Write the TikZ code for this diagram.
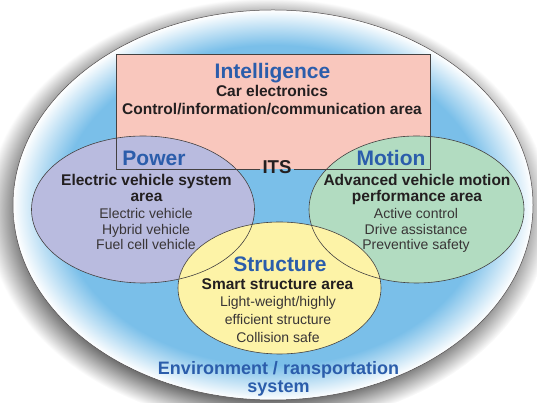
\documentclass[tikz,border=0pt]{standalone}
\usepackage{fontspec}
\setmainfont{Liberation Sans}

\definecolor{sky}{HTML}{7ABFE9}
\definecolor{headblue}{HTML}{2B5DAB}
\definecolor{ink}{HTML}{231F20}
\definecolor{intfill}{HTML}{F9C7BD}
\definecolor{powfill}{HTML}{B9BBDF}
\definecolor{motfill}{HTML}{B2DCC1}
\definecolor{strfill}{HTML}{FDF3A7}

\pgfdeclareradialshading{envglow}{\pgfpoint{0bp}{0bp}}{color(0bp)=(sky); color(20.5bp)=(sky); color(23bp)=(sky!45!white); color(25bp)=(white); color(50bp)=(white)}
\pgfdeclareradialshading{envshadow}{\pgfpoint{0bp}{0bp}}{color(0bp)=(black!60); color(21.8bp)=(black!60); color(25bp)=(white); color(50bp)=(white)}

\begin{document}
\begin{tikzpicture}[x=1pt, y=1pt,
    outline/.style={draw=ink!85, line width=0.6pt},
    head/.style={text=headblue, font=\bfseries\fontsize{21}{24}\selectfont,
        anchor=base, inner sep=0pt},
    sub/.style={text=ink, font=\bfseries\fontsize{15.5}{16}\selectfont,
        align=center, anchor=base, inner sep=0pt},
    item/.style={text=ink!90, font=\fontsize{14}{15.5}\selectfont,
        align=center, anchor=base, inner sep=0pt}
    ]
    \useasboundingbox (0,0) rectangle (537,403);

    % environment / transportation system
    \shade[shading=envshadow] (268,191) ellipse [x radius=282, y radius=214];
    \shade[shading=envglow] (273,198) ellipse [x radius=260, y radius=195];
    \draw[draw=ink!80, line width=0.5pt] (273,198) ellipse [x radius=260, y radius=195];

    % the four areas
    \coordinate (rsw) at (116,234);
    \coordinate (rne) at (430,349);
    \fill[intfill] (rsw) rectangle (rne);
    \fill[powfill] (143,193.5) ellipse [x radius=111.5, y radius=73.5];
    \fill[motfill] (416.5,193.5) ellipse [x radius=107.5, y radius=73.5];
    \fill[strfill] (279.5,115) ellipse [x radius=101.5, y radius=66];
    \draw[outline] (143,193.5) ellipse [x radius=111.5, y radius=73.5];
    \draw[outline] (416.5,193.5) ellipse [x radius=107.5, y radius=73.5];
    \draw[outline] (279.5,115) ellipse [x radius=101.5, y radius=66];

    \node[text=ink, font=\bfseries\fontsize{18.6}{20}\selectfont,
        anchor=base, inner xsep=2pt, inner ysep=0pt] (its) at (277,229) {ITS};
    \draw[outline] (its.west |- rsw) -- (rsw) |- (rne) -- (rne |- rsw) -- (its.east |- rsw);

    % base of a multi-line node is its last line
    \node[head] (intel) at (272.5,324) {Intelligence};
    \node[sub] (intelsub) at (272,288) {Car electronics\\[2pt] Control/information/communication area};

    \node[head] (power) at (154,237) {Power};
    \node[sub] (powersub) at (146.5,201) {Electric vehicle system\\ area};
    \node[item] (poweritems) at (146,153) {Electric vehicle\\ Hybrid vehicle\\ Fuel cell vehicle};

    \node[head] (motion) at (391,237) {Motion};
    \node[sub] (motionsub) at (417,201) {Advanced vehicle motion\\ performance area};
    \node[item] (motionitems) at (416,153) {Active control\\ Drive assistance\\ Preventive safety};

    \node[head] (struct) at (280,131) {Structure};
    \node[sub] (structsub) at (277.5,113) {Smart structure area};
    \node[item, font=\fontsize{14}{18}\selectfont] (structitems) at (278,60)
        {Light-weight/highly\\ efficient structure\\ Collision safe};

    \node[head, font=\bfseries\fontsize{18}{18.5}\selectfont, align=center] (env) at (278.5,10)
        {Environment / ransportation\\ system};
\end{tikzpicture}
\end{document}
